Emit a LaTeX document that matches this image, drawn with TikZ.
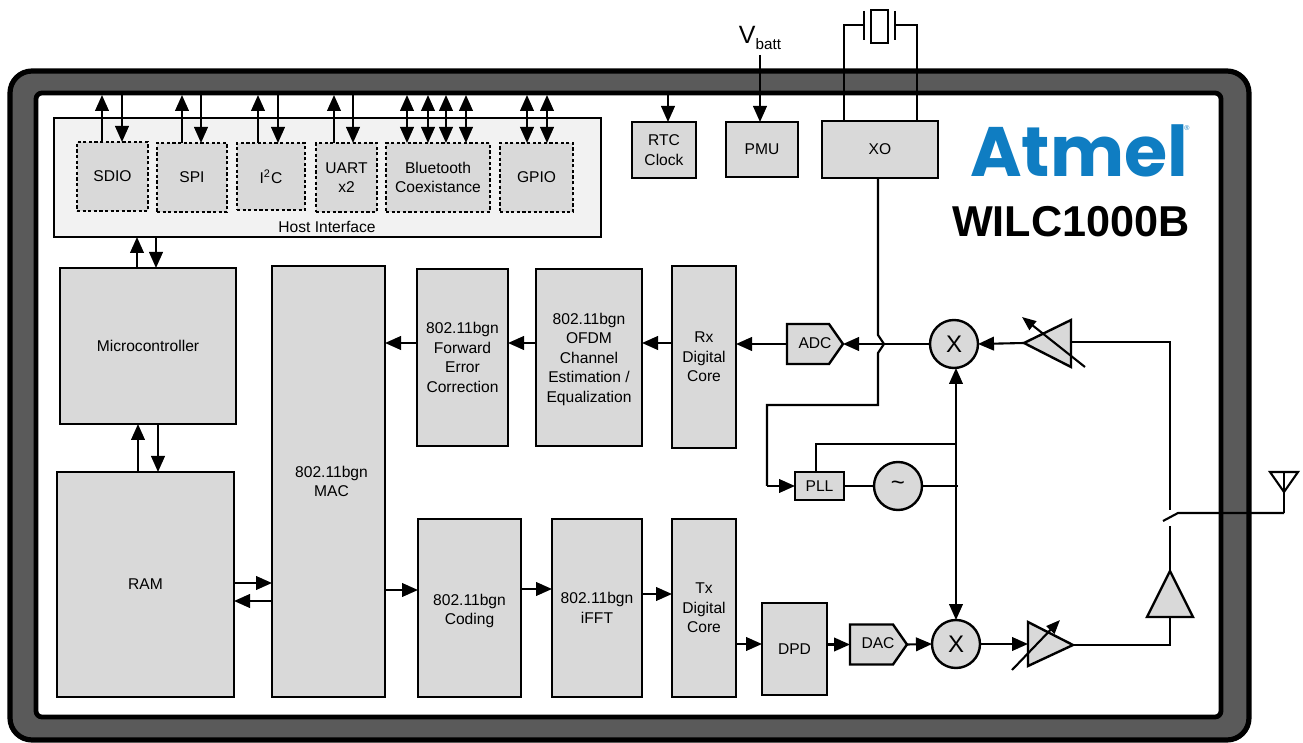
\documentclass[tikz,border=0pt]{standalone}
\usepackage{fontspec}
\setmainfont{Liberation Sans}
\newfontfamily\logofont{Poppins}
\usetikzlibrary{arrows.meta,shapes.symbols,shapes.geometric}
\definecolor{blockgray}{HTML}{D9D9D9}
\definecolor{framegray}{HTML}{5A5A5A}
\definecolor{hostgray}{HTML}{F2F2F2}
\definecolor{atmelblue}{HTML}{0F7DC2}
\tikzset{
  x=0.5pt,y=-0.5pt,
  every node/.style={inner sep=0pt,outer sep=0pt,align=center,font=\fontsize{7.8}{9.7}\selectfont},
  blk/.style={draw=black,fill=blockgray,line width=1.2pt},
  host/.style={draw=black,fill=hostgray,line width=1.2pt},
  dashblk/.style={draw=black,fill=blockgray,line width=1.4pt,dash pattern=on 1.6pt off 1.2pt},
  mix/.style={circle,draw=black,fill=blockgray,line width=1.2pt,minimum size=24pt},
  conv/.style={shape=signal,signal to=east,signal from=nowhere,signal pointer angle=110,draw=black,fill=blockgray,line width=1.2pt,minimum height=20pt},
  wire/.style={draw=black,line width=1.05pt},
  arr/.style={wire,-{Triangle[length=8pt,width=6.8pt]}},
  dblarr/.style={wire,{Triangle[length=8pt,width=6.8pt]}-{Triangle[length=8pt,width=6.8pt]}},
  amp/.style={draw=black,fill=blockgray,line width=1.2pt,line join=miter},
  thinarr/.style={wire,-{Triangle[length=7pt,width=5.5pt]}},
}
\newcommand{\bx}[7][blk]{\node[#1,minimum width={(#4-#2)*0.5pt},minimum height={(#5-#3)*0.5pt}] (#6) at ({(#2+#4)/2},{(#3+#5)/2}) {#7};}
\begin{document}
\begin{tikzpicture}
\useasboundingbox (0,0) rectangle (1303,743);
\fill[white] (0,0) rectangle (1303,743);
% frame
\draw[fill=framegray,draw=black,line width=2.6pt,rounded corners=11pt] (10,71) rectangle (1249,740);
\draw[fill=white,draw=black,line width=2.4pt,rounded corners=3pt] (36,93) rectangle (1221,717);
% host
\bx[host]{54}{118}{601}{237}{hostif}{}
\node (hostlabel) at (327,227) {Host Interface};
\bx[dashblk]{77}{142}{148}{211}{sdio}{SDIO}
\bx[dashblk]{157}{143}{227}{212}{spi}{SPI}
\bx[dashblk]{237}{143}{305}{210}{iic}{I\textsuperscript{2}C}
\bx[dashblk]{316}{143}{377}{212}{uart}{UART\\x2}
\bx[dashblk]{386}{143}{490}{212}{bt}{Bluetooth\\Coexistance}
\bx[dashblk]{500}{143}{573}{212}{gpio}{GPIO}
% top row
\bx{632}{122}{696}{178}{rtc}{RTC\\Clock}
\bx{726}{122}{798}{177}{pmu}{PMU}
\bx{822}{121}{938}{178}{xo}{XO}
% main blocks
\bx{60}{268}{236}{424}{micro}{Microcontroller}
\bx{57}{472}{234}{697}{ram}{RAM}
\bx{272}{266}{385}{697}{mac}{\hspace*{3pt}802.11bgn\\\hspace*{3pt}MAC}
\bx{417}{269}{508}{446}{fec}{802.11bgn\\Forward\\Error\\Correction}
\bx{536}{269}{642}{446}{ofdm}{\rule{0pt}{7.5pt}802.11bgn\\OFDM\\Channel\\Estimation /\\Equalization}
\bx{672}{266}{736}{448}{rxc}{Rx\\Digital\\Core}
\bx{418}{519}{521}{697}{coding}{\rule{0pt}{8.5pt}802.11bgn\\Coding}
\bx{552}{519}{642}{697}{ifft}{802.11bgn\\iFFT}
\bx{672}{519}{736}{697}{txc}{Tx\\Digital\\Core}
\bx{762}{603}{827}{695}{dpd}{DPD}
\bx{795}{472}{844}{500}{pll}{PLL}
\node[conv,minimum width=28pt] (adc) at (808,344) {};
\node (adctext) at (815,343) {ADC};
\node[conv,minimum width=28.5pt] (dac) at (871.5,644.5) {};
\node (dactext) at (878,643) {DAC};
\node[mix,font=\fontsize{12}{12}\selectfont] (mixa) at (954,344) {X};
\node[mix,font=\fontsize{12}{12}\selectfont] (mixb) at (956,644) {X};
\node[mix,font=\fontsize{12}{12}\selectfont] (osc) at (898,486) {\textasciitilde};
% coordinates
\foreach \n/\x in {ca/102,cb/122,cc/182,cd/201,ce/258,cf/278,cg/334,ch/353,ci/407,cj/428,ck/446,cl/466,cm/527,cn/547}
  \coordinate (\n) at (\x,95);
\coordinate (rtctop) at (668,94);
\coordinate (vb) at (760,55);
% host arrows
\draw[arr] (sdio.north -| ca) -- (ca);
\draw[arr] (cb) -- (sdio.north -| cb);
\draw[arr] (spi.north -| cc) -- (cc);
\draw[arr] (cd) -- (spi.north -| cd);
\draw[arr] (iic.north -| ce) -- (ce);
\draw[arr] (cf) -- (iic.north -| cf);
\draw[arr] (uart.north -| cg) -- (cg);
\draw[arr] (ch) -- (uart.north -| ch);
\draw[dblarr] (bt.north -| ci) -- (ci);
\draw[dblarr] (bt.north -| cj) -- (cj);
\draw[dblarr] (bt.north -| ck) -- (ck);
\draw[dblarr] (bt.north -| cl) -- (cl);
\draw[dblarr] (gpio.north -| cm) -- (cm);
\draw[dblarr] (gpio.north -| cn) -- (cn);
\draw[arr] (rtctop) -- (rtctop |- rtc.north);
\node[font=\fontsize{12.5}{13}\selectfont] (vbatt) at (760,38) {V\raisebox{-2.8pt}{\fontsize{7.6}{8}\selectfont batt}};
\draw[arr] (vb) -- (vb |- pmu.north);
% crystal
\coordinate (xl) at (844,25); \coordinate (xr) at (917,25);
\coordinate (pl) at (864,25); \coordinate (pr) at (895,25);
\draw[wire] (xl |- xo.north) -- (xl) -- (pl);
\draw[wire] (xr |- xo.north) -- (xr) -- (pr);
\draw[wire] (864,11) -- (864,40);
\draw[wire] (895,11) -- (895,40);
\draw[draw=black,fill=white,line width=1.1pt] (871,10) rectangle (888,43);
% host-micro etc
\coordinate (hu) at (137,0); \coordinate (hd) at (156,0);
\draw[arr] (micro.north -| hu) -- (hostif.south -| hu);
\draw[arr] (hostif.south -| hd) -- (micro.north -| hd);
\coordinate (mu) at (138,0); \coordinate (md) at (158,0);
\draw[arr] (ram.north -| mu) -- (micro.south -| mu);
\draw[arr] (micro.south -| md) -- (ram.north -| md);
\coordinate (ru) at (0,583); \coordinate (rd) at (0,601);
\draw[arr] (ram.east |- ru) -- (mac.west |- ru);
\draw[arr] (mac.west |- rd) -- (ram.east |- rd);
% rx chain
\coordinate (rxy) at (0,343);
\draw[arr] (fec.west |- rxy) -- (mac.east |- rxy);
\draw[arr] (ofdm.west |- rxy) -- (fec.east |- rxy);
\draw[arr] (rxc.west |- rxy) -- (ofdm.east |- rxy);
\draw[arr] (adc.west) -- (rxc.east |- adc.west);
\coordinate (jt) at (878,335); \coordinate (jm) at (884,344); \coordinate (jb) at (878,353);
\draw[arr] (mixa.west) -- (jm) -- (adc.east);
\coordinate (xk) at (878,405); \coordinate (xk2) at (767,405);
\draw[wire] (xo.south -| jt) -- (jt) -- (jm) -- (jb) -- (xk) -- (xk2) -- (xk2 |- pll.west);
\draw[arr] (xk2 |- pll.west) -- (pll.west);
% tx chain
\coordinate (t1) at (0,590); \coordinate (t2) at (0,589); \coordinate (t3) at (0,594);
\draw[arr] (mac.east |- t1) -- (coding.west |- t1);
\draw[arr] (coding.east |- t2) -- (ifft.west |- t2);
\draw[arr] (ifft.east |- t3) -- (txc.west |- t3);
\coordinate (t4) at (0,644);
\draw[arr] (txc.east |- t4) -- (dpd.west |- t4);
\draw[arr] (dpd.east |- dac.west) -- (dac.west);
\draw[arr] (dac.east) -- (mixb.west);
% LO
\coordinate (lo) at (956,444); \coordinate (lob) at (958,486);
\draw[arr] (lo) -- (mixa.south -| lo);
\draw[arr] (lo) -- (mixb.north -| lo);
\draw[wire] (lo) -- (lo -| 816,0) -- (pll.north -| 816,0);
\draw[wire] (pll.east) -- (osc.west);
\draw[wire] (osc.east) -- (lob);
% rx amp
\coordinate (rat) at (1024,343); \coordinate (rab1) at (1071,320); \coordinate (rab2) at (1071,367);
\coordinate (rag) at (1071,342);
\draw[amp] (rat) -- (rab1) -- (rab2) -- cycle;
\draw[arr] (rat) -- (mixa.east);
\coordinate (sa) at (1085,367); \coordinate (sb) at (1022,317);
\draw[thinarr] (sa) -- (sb);
\coordinate (swt) at (1170,342); \coordinate (swa) at (1170,510); \coordinate (swb) at (1170,526);
\draw[wire] (rag) -- (swt) -- (swa);
\coordinate (bl) at (1163,521); \coordinate (bm) at (1178,513); \coordinate (be) at (1284,513);
\draw[wire] (bl) -- (bm) -- (be);
\coordinate (ant) at (1284,472); \coordinate (anl) at (1270,472); \coordinate (anr) at (1298,472); \coordinate (ana) at (1284,492);
\draw[wire] (be) -- (ant);
\draw[wire] (anl) -- (anr) -- (ana) -- cycle;
% tx amp
\coordinate (pat) at (1170,571); \coordinate (pal) at (1147,617); \coordinate (par) at (1193,617);
\draw[wire] (swb) -- (pat);
\draw[amp] (pat) -- (pal) -- (par) -- cycle;
\coordinate (vt) at (1073,645); \coordinate (vb1) at (1028,622); \coordinate (vb2) at (1028,666);
\coordinate (vk) at (1170,645);
\draw[wire] (1170,617) -- (vk) -- (vt);
\draw[amp] (vt) -- (vb1) -- (vb2) -- cycle;
\draw[arr] (mixb.east) -- (vb1 |- mixb.east);
\coordinate (sc) at (1012,670); \coordinate (sd) at (1060,620);
\draw[thinarr] (sc) -- (sd);
% logo
\node[font=\logofont\bfseries\fontsize{35}{36}\selectfont,text=atmelblue,anchor=base] (atmel) at (1079,177) {Atmel};
\node[font=\fontsize{3.5}{4}\selectfont,text=atmelblue] (reg) at (1187,128) {®};
\node[font=\bfseries\fontsize{21.6}{24}\selectfont] (wilc) at (1071,222) {WILC1000B};
\end{tikzpicture}
\end{document}
